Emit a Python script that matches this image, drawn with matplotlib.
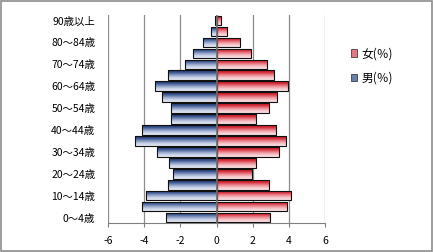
import numpy as np
import matplotlib
matplotlib.use("Agg")
import matplotlib.pyplot as plt
from matplotlib.patches import Patch, Rectangle
from matplotlib.colors import LinearSegmentedColormap

plt.rcParams['font.family'] = ['Noto Sans CJK JP', 'DejaVu Sans']

# age groups, bottom to top
ages = ["0～4歳", "5～9歳", "10～14歳", "15～19歳", "20～24歳", "25～29歳",
        "30～34歳", "35～39歳", "40～44歳", "45～49歳", "50～54歳", "55～59歳",
        "60～64歳", "65～69歳", "70～74歳", "75～79歳", "80～84歳", "85～89歳",
        "90歳以上"]
male = [2.8, 4.1, 3.9, 2.7, 2.4, 2.6, 3.3, 4.5, 4.1, 2.5, 2.5, 3.0,
        3.4, 2.7, 1.75, 1.3, 0.75, 0.3, 0.1]
female = [2.95, 3.9, 4.1, 2.9, 1.95, 2.2, 3.45, 3.85, 3.3, 2.2, 2.9, 3.35,
          3.95, 3.2, 2.8, 1.9, 1.3, 0.6, 0.25]
xticks = [-6, -4, -2, 0, 2, 4, 6]

# gradient: dark at top of each bar, light at the bottom
male_cmap = LinearSegmentedColormap.from_list(
    "m", ["#1a2f68", "#3e5892", "#8a9cc4", "#c9d2e6", "#e4e9f3"])
female_cmap = LinearSegmentedColormap.from_list(
    "f", ["#c00a18", "#d63340", "#e98590", "#f5c4ca", "#fae4e6"])

fig = plt.figure(figsize=(4.33, 2.52), dpi=100)
fig.patch.set_facecolor("white")
fig.patches.append(Rectangle((0.002, 0.004), 0.995, 0.992, transform=fig.transFigure,
                             fill=False, edgecolor="#8c8c8c", linewidth=1.2))

ax = fig.add_axes([0.249, 0.115, 0.502, 0.825])
y = np.arange(len(ages))
grad = np.linspace(0, 1, 64).reshape(-1, 1)

bars_m = ax.barh(y, [-v for v in male], height=0.88, color="none",
                 edgecolor="#101010", linewidth=0.8, zorder=3)
bars_f = ax.barh(y, female, height=0.88, color="none",
                 edgecolor="#101010", linewidth=0.8, zorder=3)

for bars, cmap in [(bars_m, male_cmap), (bars_f, female_cmap)]:
    for b in bars:
        x0, y0 = b.get_x(), b.get_y()
        w, h = b.get_width(), b.get_height()
        im = ax.imshow(grad, cmap=cmap, aspect="auto", origin="upper",
                       extent=[min(x0, x0 + w), max(x0, x0 + w), y0, y0 + h],
                       zorder=2)
        im.set_clip_path(b)

ax.set_xlim(-6, 6)
ax.set_ylim(-0.5, len(ages) - 0.5)
ax.set_xticks(xticks)
ax.set_xticklabels([str(t) for t in xticks], fontsize=7.5)
ax.set_yticks(y)
ax.set_yticklabels([a if i % 2 == 0 else "" for i, a in enumerate(ages)], fontsize=7.5)
ax.tick_params(axis="y", length=0, pad=9)
ax.tick_params(axis="x", length=3, color="#808080", pad=6)

for t in xticks:
    if t != 0:
        ax.axvline(t, color="#8c8c8c", linewidth=0.9, zorder=1)
ax.axvline(0, color="#707070", linewidth=1.2, zorder=4)

for s in ["top", "right", "left"]:
    ax.spines[s].set_visible(False)
ax.spines["bottom"].set_color("#808080")

handles = [Patch(facecolor="#e07a84", edgecolor="#404040", linewidth=0.6),
           Patch(facecolor="#6a7eaa", edgecolor="#404040", linewidth=0.6)]
fig.legend(handles, ["女(％)", "男(％)"], loc="upper left",
           bbox_to_anchor=(0.785, 0.855), frameon=False, fontsize=8.5,
           handlelength=0.55, handleheight=0.55, handletextpad=0.35,
           labelspacing=1.0)

fig.savefig("out.png", dpi=100)
